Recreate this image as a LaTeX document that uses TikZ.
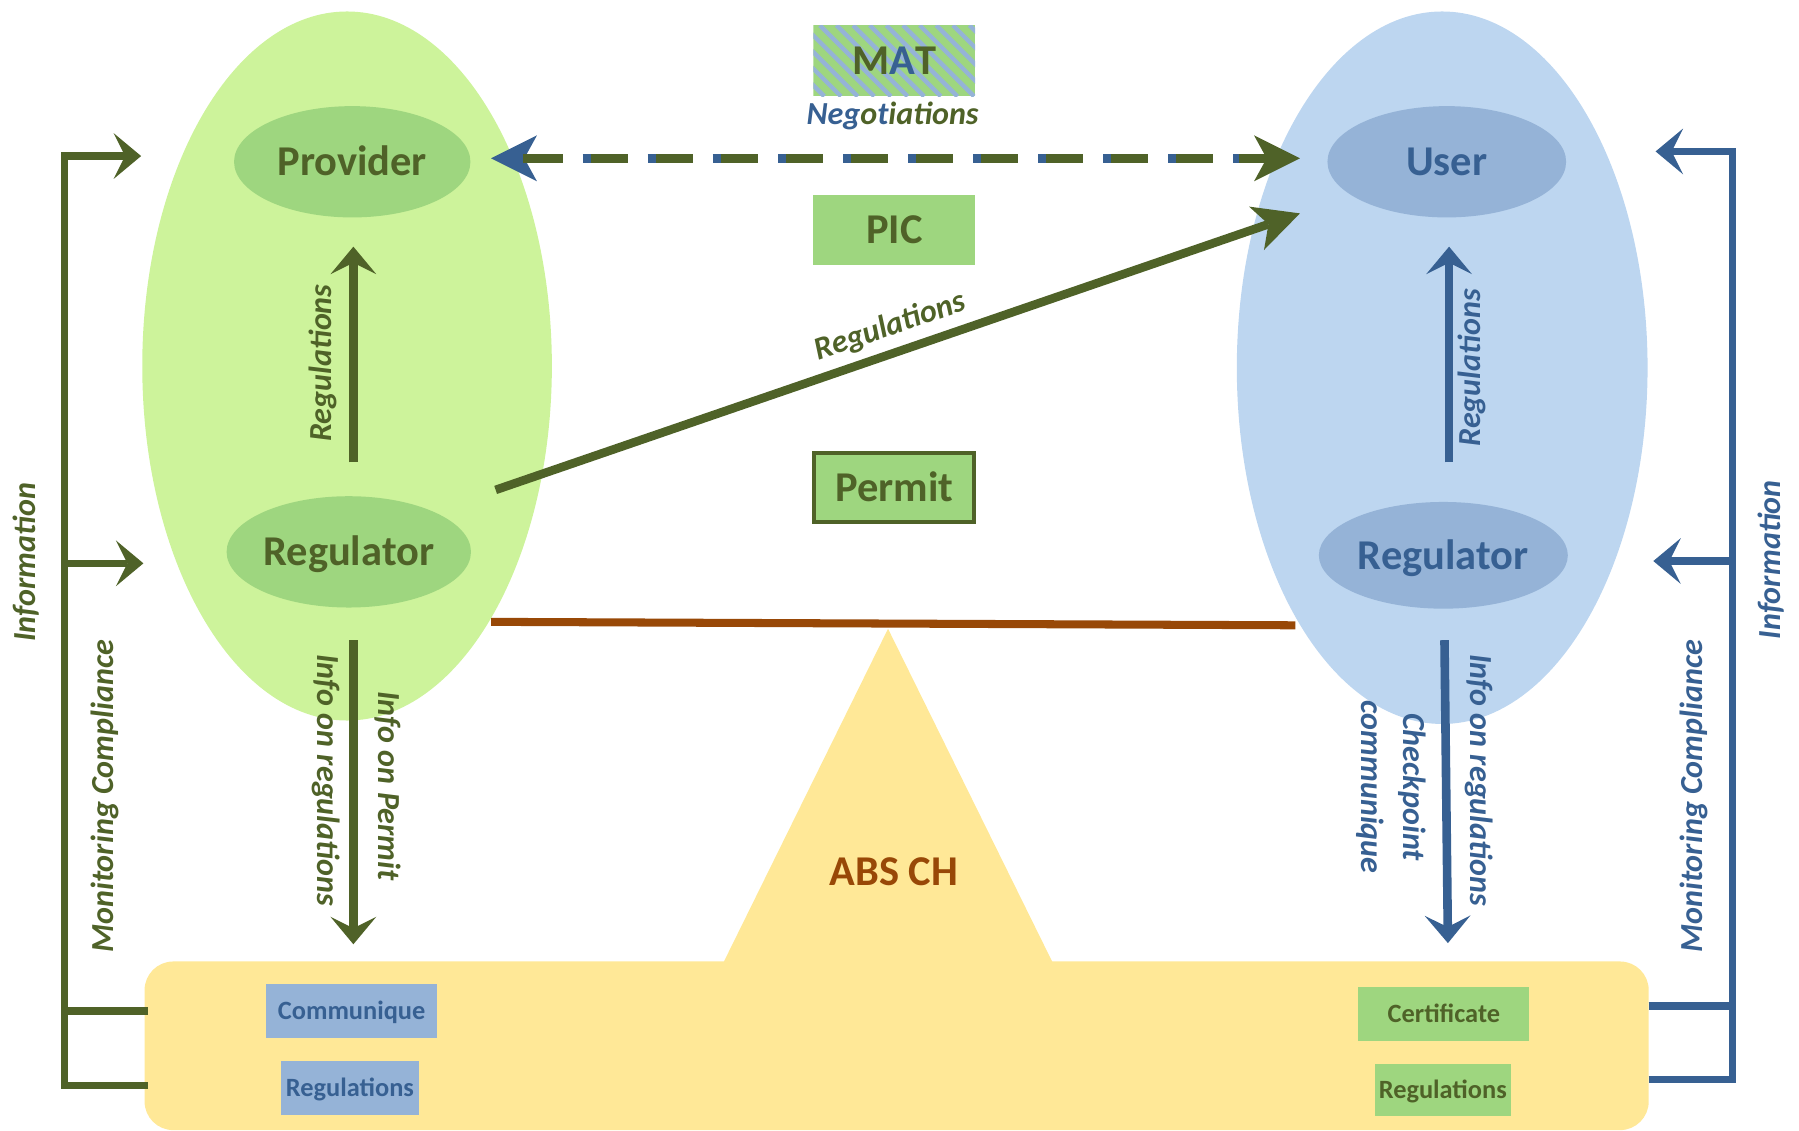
\documentclass[tikz,border=0pt]{standalone}
\usepackage{fontspec}
\setmainfont{Carlito}
\usetikzlibrary{shapes.geometric,arrows.meta}
\definecolor{olv}{HTML}{4F6228}
\definecolor{blu}{HTML}{376092}
\definecolor{lgreen}{HTML}{CDF39B}
\definecolor{mgreen}{HTML}{9ED67F}
\definecolor{lblue}{HTML}{BDD6F0}
\definecolor{mblue}{HTML}{95B3D7}
\definecolor{ylw}{HTML}{FFE897}
\definecolor{brn}{HTML}{984807}
\begin{document}
\begin{tikzpicture}[x=1pt,y=-1pt,
  big/.style={font=\fontsize{37}{44}\selectfont\bfseries, text height=24pt, text depth=0pt, inner sep=0pt},
  lab/.style={font=\fontsize{28}{36}\selectfont\bfseries\itshape, inner sep=0pt},
  sml/.style={font=\fontsize{23}{28}\selectfont\bfseries, text height=15pt, text depth=0pt, inner sep=0pt},
  tipS/.tip={Stealth[length=24pt,width=40pt,inset=10pt,line width=0pt]},
  tipL/.tip={Stealth[length=40pt,width=40pt,inset=11pt,line width=0pt]},
  conn/.style={line width=7.5pt},
  fb/.style={line width=6.5pt},
  inell/.style={ellipse, big, inner sep=0pt},
]
\useasboundingbox (0,0) rectangle (1568,985);

% ABS CH base
\node[fill=ylw, rounded corners=25pt, minimum width=1311pt, minimum height=147pt, inner sep=0pt] (absbox) at (781.5,911.5) {};
\fill[ylw] (774,548) -- (630,840) -- (918,840) -- cycle;
\node[big, text=brn] (absch) at (779,760) {ABS CH};

% envelopes
\node[ellipse, fill=lgreen, minimum width=357pt, minimum height=618pt, inner sep=0pt] (envL) at (302.5,319) {};
\node[ellipse, fill=lblue, minimum width=358pt, minimum height=621pt, inner sep=0pt] (envR) at (1257,320.5) {};

% inner ellipses
\node[inell, fill=mgreen, text=olv, minimum width=206pt, minimum height=97pt] (prov) at (307,141) {Provider};
\node[inell, fill=mgreen, text=olv, minimum width=213pt, minimum height=97pt] (regL) at (304,481) {Regulator};
\node[inell, fill=mblue, text=blu, minimum width=208pt, minimum height=97pt] (user) at (1261,141) {User};
\node[inell, fill=mblue, text=blu, minimum width=217pt, minimum height=93pt] (regR) at (1258,484) {Regulator};

% MAT box with stripes
\begin{scope}
\clip (709,22) rectangle (850,84);
\fill[mgreen] (709,22) rectangle (850,84);
\foreach \i in {0,...,16} \draw[mblue, line width=3.8pt] ({642+14.5*\i},22) -- ++(62,62);
\end{scope}
\node[big, text=olv, minimum width=141pt, minimum height=62pt] (mat) at (779.5,53) {M{\color{blu}A}T};
\node[lab, text=olv] (neg) at (778,101) {{\color{blu}Neg}o{\color{blu}t}iations};

\node[big, fill=mgreen, text=olv, minimum width=141pt, minimum height=61pt] (pic) at (779.5,200.5) {PIC};
\node[big, fill=mgreen, draw=olv, line width=3.5pt, text=olv, minimum width=139.5pt, minimum height=60.5pt] (permit) at (779.5,425) {Permit};

% small boxes
\node[sml, fill=mblue, text=blu, minimum width=149pt, minimum height=47pt] (comm) at (306.5,881.5) {Communique};
\node[sml, fill=mblue, text=blu, minimum width=120pt, minimum height=47pt] (regsL) at (305,948.5) {Regulations};
\node[sml, fill=mgreen, text=olv, minimum width=149pt, minimum height=47pt] (cert) at (1258.5,883.5) {Certificate};
\node[sml, fill=mgreen, text=olv, minimum width=119pt, minimum height=46pt] (regsR) at (1257.5,950) {Regulations};

% endpoints
\coordinate (rlUp0) at (308,403);  \coordinate (rlUp1) at (308,215);
\coordinate (rrUp0) at (1263,403); \coordinate (rrUp1) at (1263,215);
\coordinate (rlDn0) at (308,558);  \coordinate (rlDn1) at (308,823);
\coordinate (rrDn0) at (1259,558); \coordinate (rrDn1) at (1262,822);
\coordinate (diag0) at (432,427);  \coordinate (diag1) at (1133,186);
\coordinate (dashL) at (428,138);  \coordinate (dashR) at (1133,138);
\coordinate (brn0) at (428,542);   \coordinate (brn1) at (1129,545);

% vertical arrows
\draw[olv, conn, -tipS] (rlUp0) -- (rlUp1);
\draw[blu, conn, -tipS] (rrUp0) -- (rrUp1);
\draw[olv, conn, -tipS] (rlDn0) -- (rlDn1);
\draw[blu, conn, -tipS] (rrDn0) -- (rrDn1);

% diagonal
\draw[olv, conn, -tipL] (diag0) -- (diag1);

% dashed double arrow
\draw[blu, line width=0.5pt, -tipL] (470,138) -- (dashL);
\draw[olv, conn] (456,138) -- (491,138);
\draw[olv, conn, dash pattern=on 39pt off 17.7pt] (508,138) -- (1082,138);
\draw[blu, conn, dash pattern=on 7pt off 49.7pt] (508,138) -- (1082,138);
\draw[olv, conn, -tipL] (1080,138) -- (dashR);

% brown beam
\draw[brn, line width=7pt] (brn0) -- (brn1);

% feedback left
\coordinate (fl1) at (129,946); \coordinate (fl2) at (129,881);
\coordinate (fl3) at (123,136); \coordinate (fl4) at (125,491);
\draw[olv, fb, -tipS] (fl1) -- (56,946) -- (56,136) -- (fl3);
\draw[olv, fb] (fl2) -- (56,881);
\draw[olv, fb, -tipS] (56,491) -- (fl4);

% feedback right
\coordinate (fr1) at (1437,941); \coordinate (fr2) at (1437,877);
\coordinate (fr3) at (1443,132); \coordinate (fr4) at (1441,489);
\draw[blu, fb, -tipS] (fr1) -- (1510,941) -- (1510,132) -- (fr3);
\draw[blu, fb] (fr2) -- (1510,877);
\draw[blu, fb, -tipS] (1510,489) -- (fr4);

% labels
\node[lab, text=olv, rotate=90] (lRegL) at (281.5,316.5) {Regulations};
\node[lab, text=blu, rotate=90] (lRegR) at (1283,320.5) {Regulations};
\node[lab, text=olv, rotate=19] (lRegD) at (776,285) {Regulations};
\node[lab, text=olv, rotate=-90] (lInfoRegL) at (284,680) {Info on regulations};
\node[lab, text=olv, rotate=-90] (lInfoPer) at (338,685) {Info on Permit};
\node[lab, text=blu, rotate=-90] (lInfoRegR) at (1289,680) {Info on regulations};
\node[lab, text=blu, rotate=-90, align=center, font=\fontsize{28}{36.5}\selectfont\bfseries\itshape] (lCheck) at (1212.7,686) {Checkpoint\\communique};
\node[lab, text=olv, rotate=90] (lInfoL) at (23,490) {Information};
\node[lab, text=olv, rotate=90] (lMonL) at (91.5,694) {Monitoring Compliance};
\node[lab, text=blu, rotate=90] (lMonR) at (1476,694) {Monitoring Compliance};
\node[lab, text=blu, rotate=90] (lInfoR) at (1544,488) {Information};
\end{tikzpicture}
\end{document}
